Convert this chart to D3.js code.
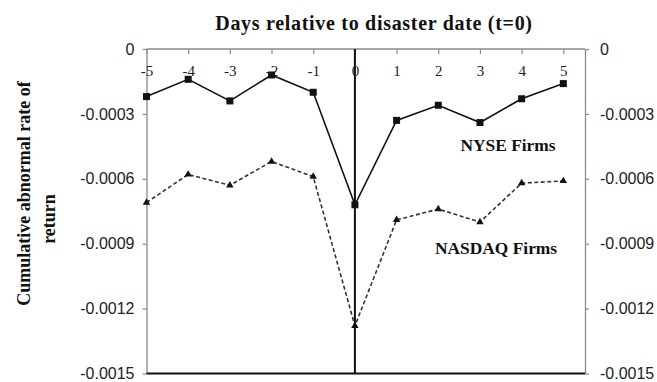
<!DOCTYPE html>
<html>
<head>
<meta charset="utf-8">
<script src="https://cdn.jsdelivr.net/npm/d3@7/dist/d3.min.js"></script>
<style>
  html, body { margin: 0; padding: 0; background: #fff; }
  svg { display: block; }
</style>
</head>
<body>
<svg id="chart" width="657" height="382"></svg>
<script>
// Event window, days relative to the disaster date
const days = [-5, -4, -3, -2, -1, 0, 1, 2, 3, 4, 5];
// Cumulative abnormal rate of return
const nyse = [-0.00022, -0.00014, -0.00024, -0.00012, -0.00020, -0.00072, -0.00033, -0.00026, -0.00034, -0.00023, -0.00016];
const nasdaq = [-0.00071, -0.00058, -0.00063, -0.00052, -0.00059, -0.00128, -0.00079, -0.00074, -0.00080, -0.00062, -0.00061];
const yTicks = [0, -0.0003, -0.0006, -0.0009, -0.0012, -0.0015];
const yTickLabels = ["0", "-0.0003", "-0.0006", "-0.0009", "-0.0012", "-0.0015"];

const svg = d3.select("#chart");
const plot = { left: 146.5, right: 585, top: 49, bottom: 373.5 };

const x = d3.scaleLinear().domain([-5, 5.52]).range([plot.left, plot.right]);
const y = d3.scaleLinear().domain([-0.0015, 0]).range([plot.bottom, plot.top]);

const grey = "#8a8a8a";
const serif = "'Liberation Serif', 'Times New Roman', serif";
const sans = "'Liberation Sans', Arial, sans-serif";

// Left value axis
const labelOf = v => yTickLabels[yTicks.indexOf(v)];
const leftAxis = svg.append("g")
  .attr("transform", `translate(${plot.left},0)`)
  .call(d3.axisLeft(y).tickValues(yTicks).tickFormat(labelOf).tickSizeInner(4).tickSizeOuter(0).tickPadding(8));
// Right value axis
const rightAxis = svg.append("g")
  .attr("transform", `translate(${plot.right},0)`)
  .call(d3.axisRight(y).tickValues(yTicks).tickFormat(labelOf).tickSizeInner(4).tickSizeOuter(0).tickPadding(11));
[leftAxis, rightAxis].forEach(g => {
  g.select(".domain").attr("stroke", grey).attr("stroke-width", 1.3);
  g.selectAll(".tick line").attr("stroke", grey).attr("stroke-width", 1.2);
  g.selectAll(".tick text").attr("font-family", sans).attr("font-size", 16).attr("fill", "#222");
});

// Day axis along the top edge, ticks and labels hanging inside the plot
const dayAxis = svg.append("g")
  .attr("transform", `translate(0,${plot.top})`)
  .call(d3.axisBottom(x).tickValues(days).tickFormat(d => String(d)).tickSizeInner(5).tickSizeOuter(0).tickPadding(11));
dayAxis.select(".domain").attr("stroke", grey).attr("stroke-width", 1.3)
  .attr("d", `M${plot.left},0H${plot.right}`);
dayAxis.selectAll(".tick line").attr("stroke", grey).attr("stroke-width", 1.2);
dayAxis.selectAll(".tick text").attr("font-family", serif).attr("font-size", 15).attr("fill", "#222");

// Bottom edge of the plot
svg.append("line")
  .attr("x1", plot.left).attr("x2", plot.right)
  .attr("y1", y(-0.0015)).attr("y2", y(-0.0015))
  .attr("stroke", "#111").attr("stroke-width", 2);

// Disaster date marker (t = 0)
svg.append("line")
  .attr("x1", x(0)).attr("x2", x(0))
  .attr("y1", y(0)).attr("y2", y(-0.0015))
  .attr("stroke", "#111").attr("stroke-width", 2);

const line = d3.line().x((d, i) => x(days[i])).y(d => y(d));

// NASDAQ series: dashed line with triangles
svg.append("path").datum(nasdaq)
  .attr("d", line).attr("fill", "none")
  .attr("stroke", "#333").attr("stroke-width", 1.6).attr("stroke-dasharray", "4,2.5");
svg.append("g").selectAll("path").data(nasdaq).join("path")
  .attr("d", d3.symbol(d3.symbolTriangle, 24))
  .attr("transform", (d, i) => `translate(${x(days[i])},${y(d)})`)
  .attr("fill", "#111");

// NYSE series: solid line with squares
svg.append("path").datum(nyse)
  .attr("d", line).attr("fill", "none")
  .attr("stroke", "#111").attr("stroke-width", 1.6);
svg.append("g").selectAll("rect").data(nyse).join("rect")
  .attr("x", (d, i) => x(days[i]) - 3.5).attr("y", d => y(d) - 3.5)
  .attr("width", 7).attr("height", 7).attr("fill", "#111");

// Series labels
svg.append("text").text("NYSE Firms")
  .attr("x", 508).attr("y", 151).attr("text-anchor", "middle")
  .attr("font-family", serif).attr("font-weight", "bold").attr("font-size", 17.4).attr("fill", "#111");
svg.append("text").text("NASDAQ Firms")
  .attr("x", 496).attr("y", 254).attr("text-anchor", "middle")
  .attr("font-family", serif).attr("font-weight", "bold").attr("font-size", 17.4).attr("fill", "#111");

// Titles
svg.append("text").text("Days relative to disaster date (t=0)")
  .attr("x", 374).attr("y", 30).attr("text-anchor", "middle")
  .attr("font-family", serif).attr("font-weight", "bold").attr("font-size", 20)
  .attr("letter-spacing", 0.7).attr("fill", "#111");
const yTitle = svg.append("text")
  .attr("transform", "translate(0,200) rotate(-90)")
  .attr("text-anchor", "middle")
  .attr("font-family", serif).attr("font-weight", "bold").attr("font-size", 18).attr("fill", "#111");
yTitle.append("tspan").attr("x", 6.5).attr("y", 30).text("Cumulative abnormal rate of");
yTitle.append("tspan").attr("x", -19).attr("y", 55).text("return");
</script>
</body>
</html>
